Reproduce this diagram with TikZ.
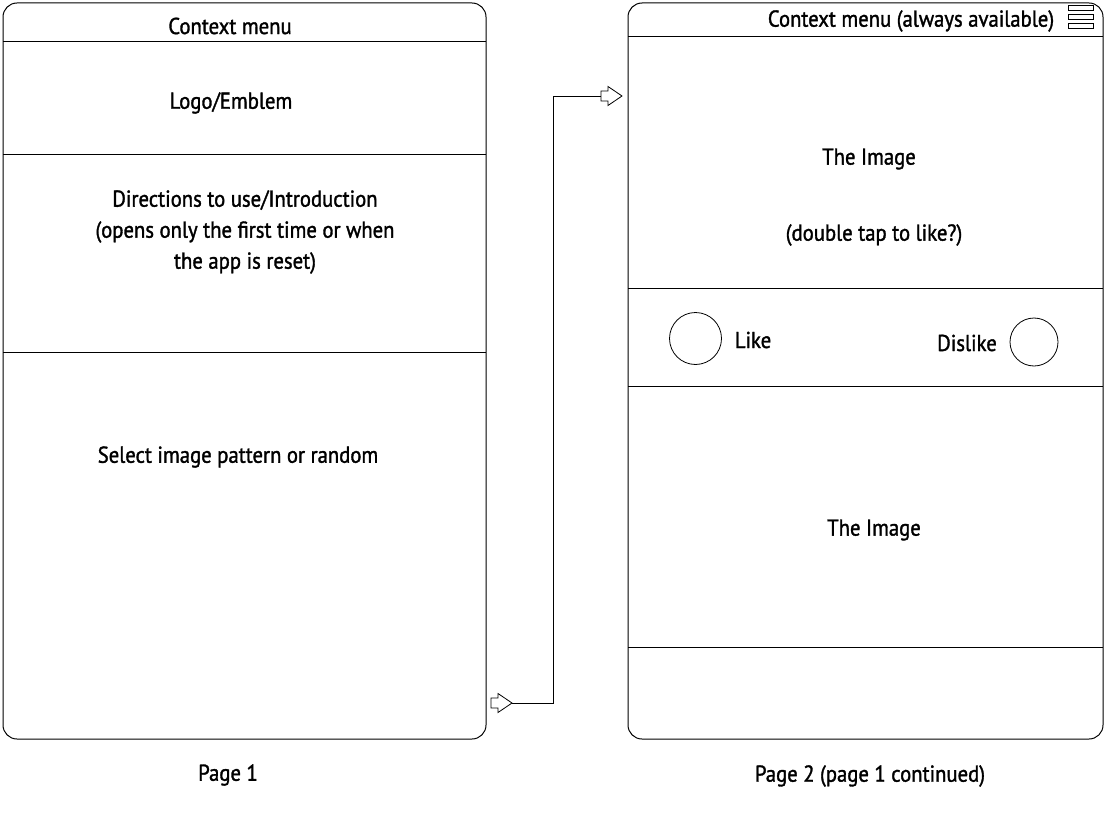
\documentclass[tikz,border=0pt]{standalone}
\usepackage{fontspec}
\setmainfont{PT Sans}[FakeStretch=0.9, FakeBold=1.4]
\usepackage{tikz}
\usetikzlibrary{positioning}
\newcommand*{\labelfont}{\fontsize{23}{31}\selectfont}
\tikzstyle{base}=[x=1pt, y=-1pt, inner sep=0pt, outer sep=0pt, line width=1pt]
\tikzstyle{frame}=[draw, rounded corners=14pt, minimum width=483pt, anchor=north west]
\tikzstyle{label}=[align=center, font=\labelfont, yshift=-2pt]
\tikzstyle{knob}=[draw, circle, line width=0.8pt]
\tikzset{blockarrow/.pic={
    \draw [fill=white, line width=0.8pt] (0,0) -- (-14,-9.5) -- (-14,-5) -- (-21,-5)
        -- (-21,5) -- (-14,5) -- (-14,9.5) -- cycle;
}}

\begin{document}
\begin{tikzpicture}[base]
    \path [use as bounding box] (0,0) rectangle (1107,821);
    % page 1
        \node [frame, minimum height=736pt] (pageone) at (3,3) {};
        \draw (3,42) -- (486,42);
        \draw (3,155) -- (486,155);
        \draw (3,352) -- (486,352);
        \node [label] (menuone) at (230,24) {Context menu};
        \node [label] (logo) at (231,101) {Logo/Emblem};
        \node [label] (intro) at (245,230) {Directions to use/Introduction\\(opens only the first time or when\\the app is reset)};
        \node [label] (select) at (238,455) {Select image pattern or random};
        \node [label] (captionone) at (228,773) {Page 1};
    % page 2
        \node [frame, minimum width=475pt, minimum height=736pt] (pagetwo) at (628,3) {};
        \draw (628,37) -- (1103,37);
        \draw (628,288) -- (1103,288);
        \draw (628,386) -- (1103,386);
        \draw (628,647) -- (1103,647);
        \node [label] (menutwo) at (911,19) {Context menu (always available)};
        \foreach \y in {5,14,23}
            \draw [line width=0.8pt] (1068,\y) rectangle (1093,\y + 5);
        \node [label] (imageone) at (869,157) {The Image};
        \node [label] (doubletap) at (874,233) {(double tap to like?)};
        \node [knob, minimum size=52pt] (likeknob) at (695.5,338.5) {};
        \node [label] (like) at (753,338) {Like};
        \node [label] (dislike) at (967,341) {Dislike};
        \node [knob, minimum size=48pt] (dislikeknob) at (1034,342) {};
        \node [label] (imagetwo) at (874,528) {The Image};
        \node [label] (captiontwo) at (870,774) {Page 2 (page 1 continued)};
    % link
        \coordinate (from) at (512,703);
        \coordinate (target) at (622,96);
        \draw [line width=0.8pt] (from) -- ++(41,0) |- ([xshift=-21pt]target);
        \pic at (from) {blockarrow};
        \pic at (target) {blockarrow};
\end{tikzpicture}
\end{document}
